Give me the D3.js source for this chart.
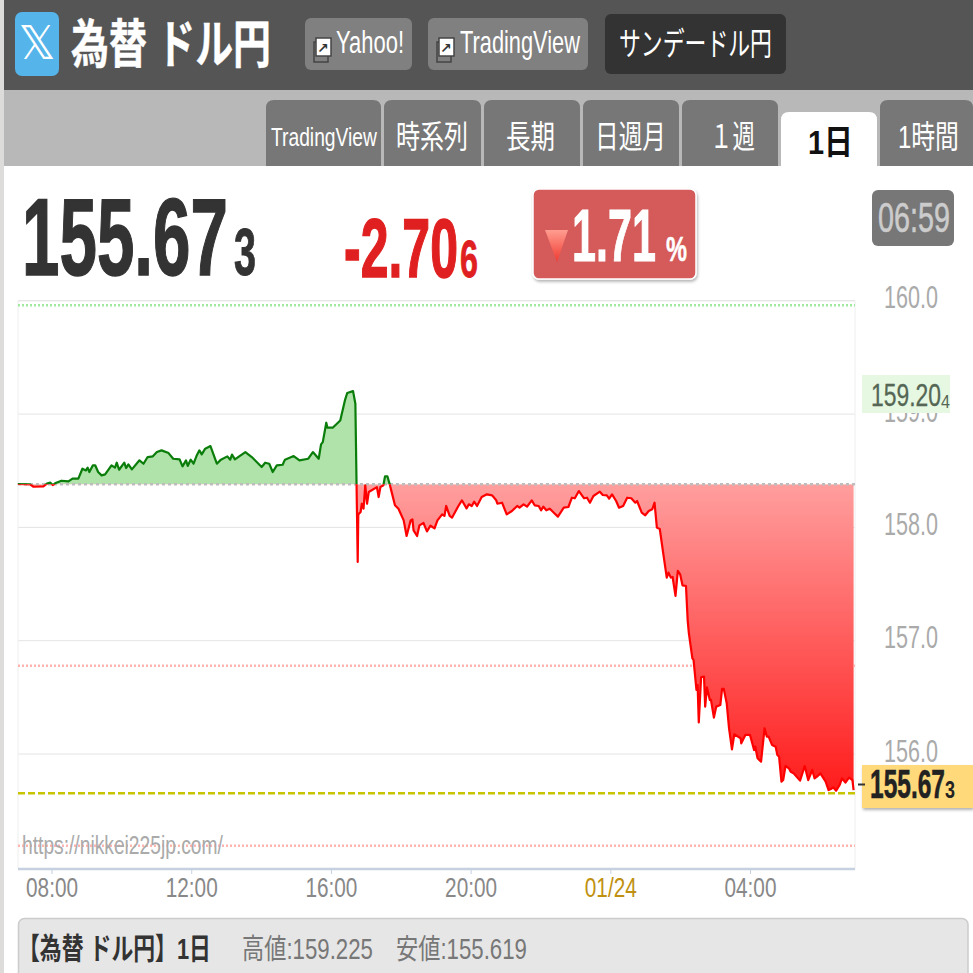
<!DOCTYPE html>
<html lang="ja"><head><meta charset="utf-8">
<script src="https://cdn.jsdelivr.net/npm/d3@7"></script>
<style>html,body{margin:0;padding:0;background:#fff;overflow:hidden}svg{display:block}</style>
</head><body><svg id="c" width="973" height="973"></svg>
<script>
// minutes after 07:00 JST
const minutes=[2,23,29,46,52,58,62,66,77,89,96,106,113,119,122,125,131,135,140,146,152,163,169,172,176,185,188,192,198,211,218,225,234,241,249,261,269,280,285,291,294,299,304,309,314,318,324,333,344,351,362,367,370,375,393,404,421,427,434,440,447,457,461,476,486,501,509,519,523,526,532,534,543,556,564,568,578,582,584,586,587,591,593,596,599,602,605,619,622,625,630,633,637,641,645,650,656,665,670,677,680,682,688,692,699,705,711,718,723,731,735,738,744,748,759,765,773,777,782,786,791,799,808,817,824,826,834,842,851,860,864,871,877,885,890,897,901,905,910,916,923,930,940,948,954,959,966,975,980,985,991,1002,1007,1014,1018,1023,1030,1035,1042,1049,1056,1063,1066,1074,1080,1086,1092,1096,1100,1105,1112,1117,1120,1124,1127,1132,1136,1140,1144,1150,1153,1155,1161,1163,1168,1170,1172,1176,1181,1183,1186,1191,1193,1198,1202,1209,1212,1215,1220,1224,1229,1233,1244,1245,1252,1260,1264,1267,1269,1273,1279,1285,1289,1292,1298,1304,1307,1310,1314,1317,1321,1327,1330,1335,1346,1354,1360,1367,1371,1375,1381,1390,1395,1399,1403,1408,1414,1418,1424,1430,1436,1438];
const prices=[158.383,158.380,158.359,158.362,158.386,158.395,158.374,158.389,158.412,158.406,158.430,158.430,158.518,158.503,158.527,158.489,158.548,158.548,158.489,158.459,158.468,158.548,158.527,158.571,158.509,158.571,158.524,158.556,158.512,158.592,158.562,158.621,158.627,158.665,158.680,158.656,158.606,158.600,158.539,158.592,158.542,158.598,158.562,158.630,158.680,158.645,158.695,158.718,158.562,158.598,158.627,158.598,158.642,158.600,158.665,158.621,158.533,158.571,158.562,158.489,158.548,158.553,158.598,158.630,158.592,158.606,158.665,158.606,158.733,158.753,158.924,158.880,158.880,158.944,159.121,159.186,159.203,159.091,158.386,157.695,158.115,158.136,158.209,158.165,158.371,158.209,158.312,158.356,158.268,158.356,158.371,158.451,158.451,158.380,158.298,158.195,158.165,158.062,157.924,158.062,158.071,157.974,157.924,158.018,158.039,157.965,158.015,157.992,158.062,158.115,158.101,158.189,158.101,158.086,158.189,158.239,158.168,158.204,158.189,158.227,158.189,158.268,158.292,158.283,158.239,158.209,158.218,158.115,158.145,158.189,158.174,158.204,158.183,158.239,158.195,158.189,158.151,158.183,158.151,158.165,158.130,158.095,158.174,158.180,158.262,158.257,158.321,158.257,158.262,158.218,158.277,158.315,158.286,158.283,158.254,158.292,158.233,158.174,158.189,158.262,158.257,158.218,158.233,158.130,158.107,158.145,158.160,158.218,157.998,157.986,157.733,157.557,157.601,157.557,157.563,157.395,157.616,157.586,157.489,157.483,157.175,157.065,156.844,156.830,156.565,156.609,156.279,156.677,156.683,156.418,156.588,156.477,156.477,156.321,156.418,156.432,156.574,156.574,156.447,156.226,156.041,156.174,156.138,156.094,156.168,156.168,156.094,156.035,156.065,155.962,155.932,156.226,156.153,156.153,156.079,156.065,155.991,155.976,155.756,155.770,155.894,155.873,155.844,155.829,155.765,155.894,155.770,155.859,155.785,155.800,155.829,155.756,155.682,155.691,155.706,155.676,155.726,155.785,155.747,155.791,155.770,155.682];
const prevClose=158.38;
const lastGuide=155.653;
const dottedGreen=[159.96];
const dottedRed=[156.78,155.19];
const yTicks=[160,159,158,157,156];
const xTickMinutes=[60,300,540,780,1020,1260];
const xTickLabels=["08:00","12:00","16:00","20:00","01/24","04:00"];
const tabs=["TradingView","時系列","長期","日週月","１週","1日","1時間"];

const FONT='"Liberation Sans","Noto Sans CJK JP",sans-serif';
const svg=d3.select("#c");
const X0=18,X1=855;
const x=d3.scaleLinear().domain([2,1438]).range([17.8,853.6]);
const y=d3.scaleLinear().domain([156,160]).range([754,300.8]);
const defs=svg.append("defs");

function rect(x0,y0,x1,y1,fill,extra={}){
  const r=svg.append("rect").attr("x",x0).attr("y",y0).attr("width",x1-x0).attr("height",y1-y0).attr("fill",fill);
  Object.entries(extra).forEach(([k,v])=>r.attr(k,v));return r;
}
// squeeze a real text element horizontally so it fills xa..xb (the reference is a condensed screenshot)
function fit(sel,xa,xb,base){
  const n=sel.node(), w=n.getComputedTextLength();
  sel.attr("x",0).attr("y",0).attr("dy",0).attr("transform",`translate(${xa},${base}) scale(${(xb-xa)/w},1)`);
  return sel;
}
function txt(s,xa,xb,base,size,color,weight="normal",stroke=0){
  const t=svg.append("text").text(s).attr("font-size",size)
    .attr("font-family",FONT).attr("font-weight",weight).attr("fill",color);
  if(stroke) t.attr("stroke",color).attr("stroke-width",stroke);
  return fit(t,xa,xb,base);
}

const sh=defs.append("filter").attr("id","sh").attr("x","-10%").attr("y","-10%").attr("width","125%").attr("height","130%");
sh.append("feDropShadow").attr("dx",1).attr("dy",2).attr("stdDeviation",1.5).attr("flood-color","#000").attr("flood-opacity",.3);

// page
rect(0,0,973,973,"#fff");
rect(0,0,4,973,"#dddcda");
rect(4,0,973,90,"#555555");
rect(4,90,973,166,"#b8b8b8");

// header
rect(15,12,59,76,"#55b5ea",{rx:7});
svg.append("text").text("𝕏").attr("x",37).attr("y",59).attr("text-anchor","middle").attr("font-size",46).attr("fill","#fff").attr("font-family",'"DejaVu Sans",sans-serif');
txt("為替 ドル円",71,271,63,52,"#fff","bold",.5);
rect(305,18,412,70,"#808080",{rx:6});
rect(428,18,588,70,"#808080",{rx:6});
rect(605,14,786,74,"#333333",{rx:6});
[[314,38],[437,38]].forEach(([a,b])=>{
  rect(a,b+4,a+14,b+24,"none",{stroke:"#444","stroke-width":1.5});
  rect(a+2,b,a+17,b+18,"#fff",{stroke:"#444","stroke-width":1.5});
  svg.append("text").text("↗").attr("x",a+3).attr("y",b+15).attr("font-size",14).attr("font-weight","bold").attr("fill","#333").attr("font-family",'"DejaVu Sans"');
});
txt("Yahoo!",336,404,53,31,"#fff");
txt("TradingView",460,580,53,31,"#fff");
txt("サンデードル円",619,772,55,32,"#fff");

// tabs
const tabBox=[[266,381,271,377,146,25],[384,481,396,468,148,32],[484,580,506,555,148,32],[583,679,595,666,148,32],[682,778,710,755,148,32],[781,877,808,853,154,34],[880,973,898,959,148,32]];
tabBox.forEach((b,i)=>{
  const active=i===5;
  const t=active?112:100;
  svg.append("path").attr("d",`M${b[0]},166V${t+8}Q${b[0]},${t} ${b[0]+8},${t}H${b[1]-8}Q${b[1]},${t} ${b[1]},${t+8}V166Z`).attr("fill",active?"#fff":"#777777");
  txt(tabs[i],b[2],b[3],b[4],b[5],active?"#111":"#fff",active?"bold":"normal");
});
rect(4,166,973,973,"#fff");

// quote
txt("155.67",22,228,275,110,"#333333","bold",1.5);
txt("3",234,256,275,66,"#333333","bold",1);
txt("-2.70",344,458,277,84,"#e02020","bold",1.5);
txt("6",460,478,277,52,"#e02020","bold",.8);
rect(533,189,696,279,"#d55a5a",{rx:6,stroke:"#fff","stroke-width":1.5,filter:"url(#sh)"});
const tg=defs.append("linearGradient").attr("id","tri").attr("x1",0).attr("x2",0).attr("y1",0).attr("y2",1);
tg.append("stop").attr("offset",0).attr("stop-color","#ff9d90");
tg.append("stop").attr("offset",1).attr("stop-color","#f03a30");
svg.append("path").attr("d",d3.line()([[545,230],[568,230],[557,262]])+"Z").attr("fill","url(#tri)");
txt("1.71",572,656,261,74,"#fff","bold",1);
txt("%",666,687,261,36,"#fff","bold",.5);
rect(872,190,954,246,"#777777",{rx:6});
txt("06:59",878,950,232,42,"#cccccc","normal",.6);

// gridlines and frame
const plot=svg.append("g");
plot.selectAll("line.grid").data(yTicks).join("line").attr("class","grid")
  .attr("x1",X0).attr("x2",X1).attr("y1",d=>y(d)).attr("y2",d=>y(d)).attr("stroke",(d,i)=>i===0?"#dddddd":"#e4e4e4").attr("stroke-width",1);
plot.append("line").attr("x1",X0).attr("x2",X0).attr("y1",y(160)).attr("y2",869).attr("stroke","#eeeeee");
plot.append("line").attr("x1",X1).attr("x2",X1).attr("y1",y(160)).attr("y2",869).attr("stroke","#eeeeee");
plot.selectAll("line.dg").data(dottedGreen).join("line").attr("class","dg")
  .attr("x1",X0).attr("x2",X1).attr("y1",d=>y(d)).attr("y2",d=>y(d)).attr("stroke","#a0eaa0").attr("stroke-width",2.5).attr("stroke-dasharray","2 2");
plot.selectAll("line.dr").data(dottedRed).join("line").attr("class","dr")
  .attr("x1",X0).attr("x2",X1).attr("y1",d=>y(d)).attr("y2",d=>y(d)).attr("stroke","#ffb4b0").attr("stroke-width",2.5).attr("stroke-dasharray","2 2");

// area & line
const base=y(prevClose);
defs.append("clipPath").attr("id","up").append("rect").attr("x",0).attr("y",0).attr("width",973).attr("height",base);
defs.append("clipPath").attr("id","dn").append("rect").attr("x",0).attr("y",base).attr("width",973).attr("height",973-base);
const rg=defs.append("linearGradient").attr("id","red").attr("gradientUnits","userSpaceOnUse").attr("x1",0).attr("x2",0).attr("y1",base).attr("y2",y(155.67));
rg.append("stop").attr("offset",0).attr("stop-color","#ff9e9e");
rg.append("stop").attr("offset",1).attr("stop-color","#ff1c1c");
const pts=minutes.map((m,i)=>[m,prices[i]]);
const area=d3.area().x(d=>x(d[0])).y0(base).y1(d=>y(d[1]));
const line=d3.line().x(d=>x(d[0])).y(d=>y(d[1]));
plot.append("path").attr("d",area(pts)).attr("fill","#b0e3aa").attr("clip-path","url(#up)");
plot.append("path").attr("d",area(pts)).attr("fill","url(#red)").attr("clip-path","url(#dn)");
plot.append("line").attr("x1",X0).attr("x2",X1).attr("y1",base).attr("y2",base).attr("stroke","#bdbdbd").attr("stroke-width",2.5).attr("stroke-dasharray","3 3");
plot.append("path").attr("d",line(pts)).attr("fill","none").attr("stroke","#0a7d0a").attr("stroke-width",2.2).attr("stroke-linejoin","round").attr("clip-path","url(#up)");
plot.append("path").attr("d",line(pts)).attr("fill","none").attr("stroke","#ff0000").attr("stroke-width",2.2).attr("stroke-linejoin","round").attr("clip-path","url(#dn)");
plot.append("line").attr("x1",X0).attr("x2",X1).attr("y1",y(lastGuide)).attr("y2",y(lastGuide)).attr("stroke","#c8c400").attr("stroke-width",2.5).attr("stroke-dasharray","7 3");

txt("https://nikkei225jp.com/",22,223,854,25,"#aaaaaa");

// x axis
const xAxis=svg.append("g").attr("transform","translate(0,869)")
  .call(d3.axisBottom(x).tickValues(xTickMinutes).tickFormat((d,i)=>xTickLabels[i]).tickSize(5));
xAxis.select(".domain").remove();
svg.append("line").attr("x1",X0).attr("x2",X1).attr("y1",869).attr("y2",869).attr("stroke","#c5d0e0").attr("stroke-width",2.5);
xAxis.selectAll(".tick line").attr("stroke","#c5d0e0");
xAxis.selectAll(".tick text")
  .attr("font-family",FONT).attr("font-size",28).attr("text-anchor","start")
  .attr("fill",(d,i)=>i===4?"#c09010":"#888888")
  .each(function(){fit(d3.select(this),-26,26,28);});

// y axis
const yAxis=svg.append("g").attr("transform","translate(884,0)")
  .call(d3.axisRight(y).tickValues(yTicks).tickFormat(d3.format(".1f")).tickSize(0).tickPadding(0));
yAxis.select(".domain").remove();
yAxis.selectAll(".tick text")
  .attr("font-family",FONT).attr("font-size",31).attr("fill","#aaaaaa")
  .each(function(){fit(d3.select(this),0,54,7);});

// price tags
rect(862,375,950,413,"#e6f8e2");
txt("159.20",871,941,406,31,"#556655","normal",.3);
txt("4",941,950,408,18,"#556655");
rect(862,765,973,808,"#ffd97a",{filter:"url(#sh)"});
rect(858,783.5,865,785.5,"#333");
txt("155.67",870,945,798,41,"#222222","bold",.6);
txt("3",945,955,798,24,"#222222","bold");

// footer
rect(18.5,918.5,968,985,"#e6e6e6",{rx:6,stroke:"#cccccc","stroke-width":1.5});
txt("【為替 ドル円】1日",18,211,959,30,"#333333","bold");
txt("高値:159.225",242,373,959,29,"#777777");
txt("安値:155.619",396,527,959,29,"#777777");
</script></body></html>
